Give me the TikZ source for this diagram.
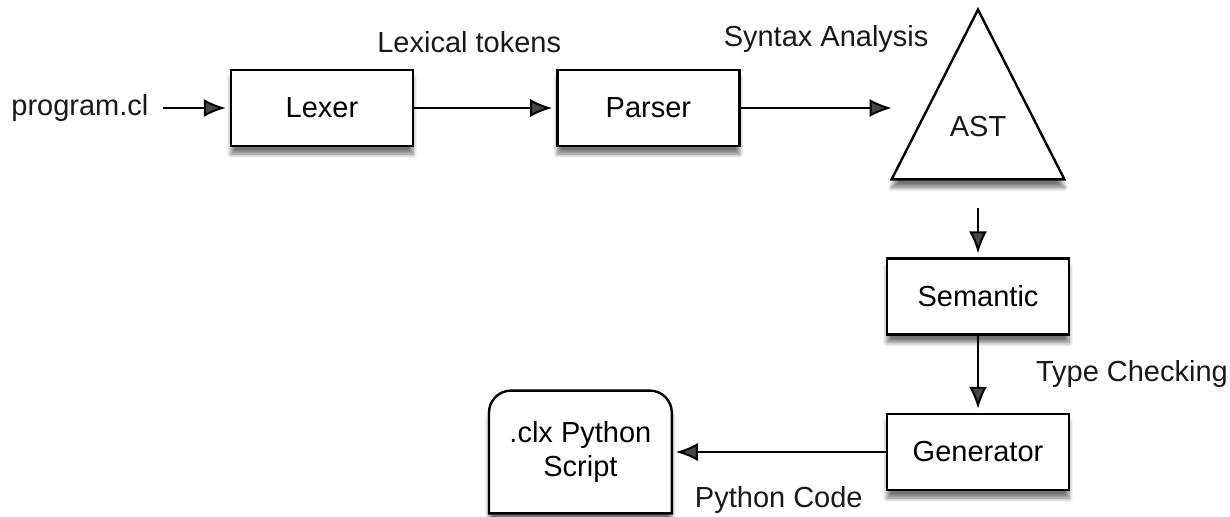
\documentclass[tikz,border=0pt]{standalone}
\usepackage{fontspec}
\setmainfont{Liberation Sans}
\usetikzlibrary{arrows.meta, positioning, shadows.blur}

\begin{document}
\begin{tikzpicture}[
    x=1pt, y=1pt,
    node distance=40pt,
    font=\fontsize{14.5}{17}\selectfont,
    % Styles embedded for portability
    box/.style={rectangle, minimum width=91pt, minimum height=38pt, align=center, draw=black, fill=white, line width=1.2pt, blur shadow={shadow xshift=0pt, shadow yshift=-4pt, shadow blur steps=8, shadow opacity=55}},
    tribox/.style={rectangle, minimum width=86pt, minimum height=84.5pt, inner sep=0pt},
    docbox/.style={rectangle, minimum width=91pt, minimum height=61pt, align=center, inner sep=0pt},
    outline/.style={draw=black, fill=white, line width=1.2pt, blur shadow={shadow xshift=0pt, shadow yshift=-4pt, shadow blur steps=8, shadow opacity=55}},
    lbl/.style={inner sep=0pt, text=black!90},
    line/.style={draw, -{Latex[length=11pt, width=9pt]}, line width=1pt, shorten >=2pt}
]
    \useasboundingbox (0,0) rectangle (615,-258);

    % --- TOP ROW: FRONT END ---
    \node [box] (lexer) at (161,-54) {Lexer};
    \node [lbl, left=40.5pt of lexer] (input) {program.cl};
    \node [box, right=71pt of lexer] (parser) {Parser};
    \node [tribox, right=75.5pt of parser, yshift=6.75pt] (ast) {};
    \draw [outline] (ast.north) -- (ast.south east) -- (ast.south west) -- cycle;
    \node [lbl] (astlabel) at ([yshift=-16.25pt]ast.center) {AST};

    % --- RIGHT COLUMN: CHECKING & GENERATION ---
    \node [box, below=39pt of ast] (semantic) {Semantic};
    \node [box, below=38.5pt of semantic] (generator) {Generator};

    % --- OUTPUT (Bottom Left) ---
    \node [docbox, left=107pt of generator] (script) {};
    \draw [outline] (script.south west) -- ([yshift=-11pt]script.north west)
        arc[start angle=180, end angle=90, radius=11pt] -- ([xshift=-11pt]script.north east)
        arc[start angle=90, end angle=0, radius=11pt] -- (script.south east) -- cycle;
    \node [docbox] (scriptlabel) at (script.center) {.clx Python\\Script};

    % --- CONNECTIONS ---
    \draw [line, shorten <=7pt] (input) -- (lexer);
    \draw [line] (lexer) -- node[lbl, midway, above=27pt, xshift=-8pt] (lextok) {Lexical tokens} (parser);
    \draw [line, shorten >=0pt] (parser.east) -- node[lbl, midway, above=27pt, xshift=5pt] (syntax) {Syntax Analysis} (parser.east -| ast.west);
    \draw [line] ([yshift=-14.5pt]ast.south) -- (semantic);
    \draw [line] (semantic) -- node[lbl, midway, right=28.5pt] (typecheck) {Type Checking} (generator);
    \draw [line] (generator) -- node[lbl, midway, below=16.5pt] (pycode) {Python Code} (script);

\end{tikzpicture}
\end{document}
